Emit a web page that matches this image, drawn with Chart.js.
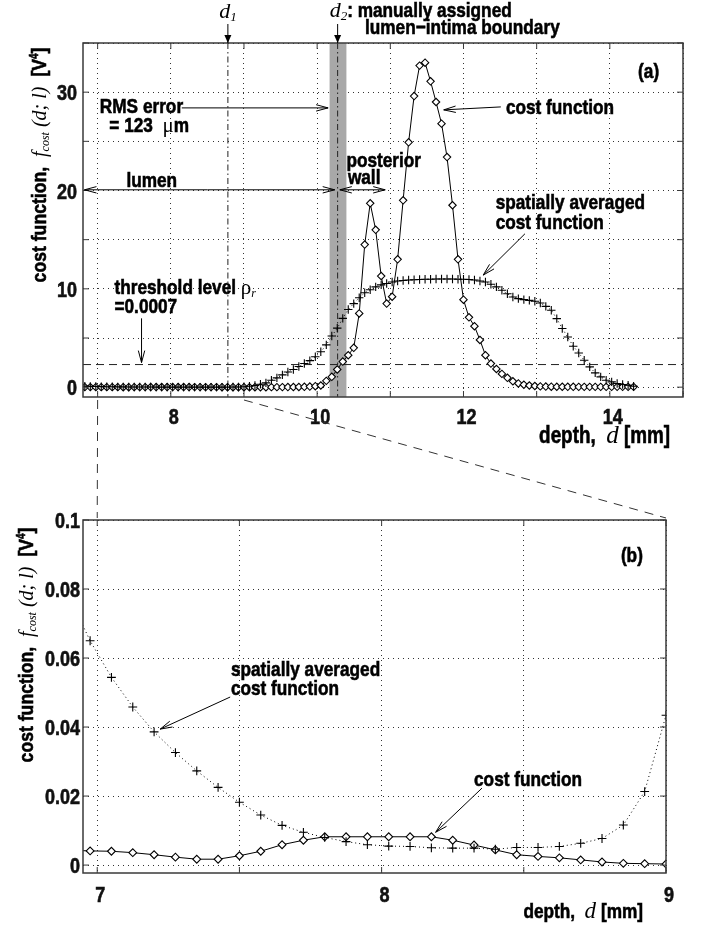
<!DOCTYPE html>
<html>
<head>
<meta charset="utf-8">
<script src="https://cdn.jsdelivr.net/npm/chart.js@4.4.0/dist/chart.umd.min.js"></script>
<style>
body { margin: 0; background: #fff; width: 705px; height: 930px; position: relative; overflow: hidden; }
canvas { position: absolute; left: 0; }
#ca { top: 0; }
#cb { top: 480px; }
#ov { top: 0; pointer-events: none; }
</style>
</head>
<body>
<canvas id="ca" width="705" height="530"></canvas>
<canvas id="cb" width="705" height="450"></canvas>
<canvas id="ov" width="705" height="930"></canvas>
<script>
// depth samples [mm]
const depth = [6.825, 6.9, 6.975, 7.05, 7.125, 7.2, 7.275, 7.35, 7.425, 7.5,
  7.575, 7.65, 7.725, 7.8, 7.875, 7.95, 8.025, 8.1, 8.175, 8.25,
  8.325, 8.4, 8.475, 8.55, 8.625, 8.7, 8.775, 8.85, 8.925, 9.0,
  9.075, 9.15, 9.225, 9.3, 9.375, 9.45, 9.525, 9.6, 9.675, 9.75,
  9.825, 9.9, 9.975, 10.05, 10.125, 10.2, 10.275, 10.35, 10.425, 10.5,
  10.575, 10.65, 10.725, 10.8, 10.875, 10.95, 11.025, 11.1, 11.175, 11.25,
  11.325, 11.4, 11.475, 11.55, 11.625, 11.7, 11.775, 11.85, 11.925, 12.0,
  12.075, 12.15, 12.225, 12.3, 12.375, 12.45, 12.525, 12.6, 12.675, 12.75,
  12.825, 12.9, 12.975, 13.05, 13.125, 13.2, 13.275, 13.35, 13.425, 13.5,
  13.575, 13.65, 13.725, 13.8, 13.875, 13.95, 14.025, 14.1, 14.175, 14.25, 14.325];

// cost function (diamonds)
const costFn = [0.0045, 0.0043, 0.0041, 0.0040, 0.0036, 0.0030, 0.0023, 0.0017, 0.0017, 0.0027,
  0.0040, 0.0059, 0.0072, 0.0082, 0.0082, 0.0082, 0.0082, 0.0082, 0.0082, 0.0072,
  0.0058, 0.0044, 0.0030, 0.0025, 0.0021, 0.0015, 0.0009, 0.0005, 0.0004, 0.0003,
  0.0003, 0.0004, 0.0006, 0.001, 0.002, 0.003, 0.005, 0.008, 0.012, 0.02,
  0.035, 0.06, 0.1, 0.17, 0.64, 1.05, 1.8, 2.6, 3.25, 4.0,
  7.5, 14.5, 18.7, 16.0, 11.3, 8.5, 9.2, 13.0, 19.0, 24.9,
  29.6, 32.7, 33.0, 31.1, 29.0, 26.8, 23.4, 18.5, 13.0, 8.9,
  7.1, 6.2, 4.8, 3.25, 2.4, 1.85, 1.35, 0.95, 0.6, 0.38,
  0.25, 0.17, 0.12, 0.08, 0.06, 0.05, 0.04, 0.04, 0.035, 0.035,
  0.03, 0.03, 0.03, 0.03, 0.03, 0.03, 0.03, 0.03, 0.03, 0.03, 0.03];

// spatially averaged cost function (pluses)
const avgFn = [0.09, 0.078, 0.065, 0.0544, 0.0458, 0.0386, 0.0326, 0.0273, 0.0225, 0.0182,
  0.0145, 0.0115, 0.0095, 0.0080, 0.0068, 0.0059, 0.0055, 0.0054, 0.0050, 0.0049,
  0.0049, 0.0046, 0.0051, 0.0051, 0.0054, 0.0063, 0.0077, 0.0116, 0.0213, 0.0434,
  0.09, 0.17, 0.3, 0.44, 0.7, 0.95, 1.25, 1.55, 1.8, 2.1,
  2.4, 2.7, 3.1, 3.6, 4.3, 5.2, 6.0, 7.0, 7.9, 8.5,
  9.1, 9.6, 9.9, 10.2, 10.4, 10.55, 10.7, 10.8, 10.85, 10.9,
  10.92, 10.95, 10.97, 10.98, 11.0, 11.0, 11.0, 11.0, 10.98, 10.97,
  10.95, 10.9, 10.8, 10.7, 10.46, 10.2, 9.85, 9.5, 9.17, 9.0,
  8.9, 8.83, 8.73, 8.56, 8.22, 7.82, 6.97, 5.96, 5.1, 4.16,
  3.48, 2.74, 2.06, 1.45, 1.05, 0.71, 0.54, 0.38, 0.27, 0.2, 0.1];

// axes / ticks
const xGridA = [7, 8, 9, 10, 11, 12, 13, 14, 15];
const xLabelsA = [8, 10, 12, 14];
const yGridA = [0, 5, 10, 15, 20, 25, 30, 35];
const yLabelsA = [0, 10, 20, 30];
const xGridB = [7, 7.5, 8, 8.5, 9];
const xLabelsB = [7, 8, 9];
const yGridB = [0, 0.02, 0.04, 0.06, 0.08, 0.1];
const yLabelsB = [0, 0.02, 0.04, 0.06, 0.08, 0.1];

// markers in panel (a)
const d1 = 8.78;
const d2 = 10.28;
const band = [10.17, 10.40];
const threshold = 2.3;

const SANS = "'Liberation Sans',Arial,sans-serif";
const SERIF = "'Liberation Serif','DejaVu Serif',serif";
const NARROW = 0.82;
// bold condensed look: Liberation Sans Bold squeezed horizontally
const B = (t, s, dy, sx) => ({ t, f: `bold ${s || 21}px ${SANS}`, sx: sx || NARROW, dy, heavy: true });
const I = (t, s, dy) => ({ t, f: `italic ${s || 22}px ${SERIF}`, sx: 1, dy });
const R = (t, s, dy) => ({ t, f: `${s || 21}px ${SERIF}`, sx: 1, dy });

function rich(ctx, x, y, parts, align) {
  let w = 0;
  parts.forEach(p => { ctx.font = p.f; w += ctx.measureText(p.t).width * p.sx; });
  let cx = align === 'center' ? x - w / 2 : align === 'right' ? x - w : x;
  parts.forEach(p => {
    ctx.font = p.f;
    ctx.save();
    ctx.translate(cx, y + (p.dy || 0));
    ctx.scale(p.sx, 1);
    ctx.fillText(p.t, 0, 0);
    if (p.heavy) {
      ctx.setLineDash([]);
      ctx.lineWidth = 0.6;
      ctx.strokeStyle = ctx.fillStyle;
      ctx.strokeText(p.t, 0, 0);
    }
    ctx.restore();
    cx += ctx.measureText(p.t).width * p.sx;
  });
}

function arrow(ctx, x1, y1, x2, y2, filled) {
  const a = Math.atan2(y2 - y1, x2 - x1), L = filled ? 8 : 12, W = filled ? 3.5 : 3.2;
  ctx.beginPath(); ctx.moveTo(x1, y1); ctx.lineTo(x2, y2); ctx.stroke();
  const bx = x2 - L * Math.cos(a), by = y2 - L * Math.sin(a);
  const px = -Math.sin(a) * W, py = Math.cos(a) * W;
  ctx.beginPath(); ctx.moveTo(bx + px, by + py); ctx.lineTo(x2, y2); ctx.lineTo(bx - px, by - py);
  if (filled) { ctx.closePath(); ctx.fill(); } else ctx.stroke();
}

function yTitle(ctx, cx, cy) {
  ctx.save();
  ctx.translate(cx, cy);
  ctx.rotate(-Math.PI / 2);
  rich(ctx, 0, 0, [
    B('cost function,  ', 21, 0, 0.84), I('f', 20), I('cost', 12, 3), I(' (d; l)  ', 20),
    B('[V', 21, 0, 0.84), B('4', 12, -8), B(']', 21, 0, 0.84)
  ], 'center');
  ctx.restore();
}

function xTitle(ctx, right, base, s) {
  rich(ctx, right, base, [B('depth,  ', s), I('d', s + 2), B(' [mm]', s)], 'right');
}

// frame, inner tick marks and tick labels
function frame(chart, xs, ys, xl, yl, xOff, yOff) {
  const { ctx, chartArea: a, scales: { x, y } } = chart;
  ctx.save();
  ctx.strokeStyle = '#3a3a3a';
  ctx.lineWidth = 1.5;
  ctx.strokeRect(a.left, a.top, a.right - a.left, a.bottom - a.top);
  ctx.lineWidth = 1;
  ctx.beginPath();
  xs.forEach(v => {
    const p = x.getPixelForValue(v);
    ctx.moveTo(p, a.bottom); ctx.lineTo(p, a.bottom - 6);
    ctx.moveTo(p, a.top); ctx.lineTo(p, a.top + 6);
  });
  ys.forEach(v => {
    const p = y.getPixelForValue(v);
    ctx.moveTo(a.left, p); ctx.lineTo(a.left + 6, p);
    ctx.moveTo(a.right, p); ctx.lineTo(a.right - 6, p);
  });
  ctx.stroke();
  ctx.fillStyle = '#111';
  xl.forEach(v => rich(ctx, x.getPixelForValue(v) + 3, a.bottom + xOff, [B(String(v), 22)], 'center'));
  yl.forEach(v => rich(ctx, a.left - yOff, y.getPixelForValue(v) + 8, [B(String(v), 22)], 'right'));
  ctx.restore();
}

const annotA = {
  id: 'annotA',
  beforeDatasetsDraw(chart) {
    const { ctx, chartArea: a, scales: { x, y } } = chart;
    ctx.save();
    ctx.fillStyle = '#a8a8a8';
    const b0 = x.getPixelForValue(band[0]), b1 = x.getPixelForValue(band[1]);
    ctx.fillRect(b0, a.top, b1 - b0, a.bottom - a.top);
    ctx.strokeStyle = '#222';
    ctx.lineWidth = 1;
    ctx.setLineDash([8, 5]);
    ctx.beginPath();
    ctx.moveTo(a.left, y.getPixelForValue(threshold));
    ctx.lineTo(a.right, y.getPixelForValue(threshold));
    ctx.stroke();
    ctx.setLineDash([6, 3, 1.5, 3]);
    [d1, d2].forEach(v => {
      ctx.beginPath();
      ctx.moveTo(x.getPixelForValue(v), a.top);
      ctx.lineTo(x.getPixelForValue(v), a.bottom);
      ctx.stroke();
    });
    ctx.restore();
  },
  afterDraw(chart) {
    const { ctx, chartArea: a, scales: { x, y } } = chart;
    frame(chart, xGridA, yGridA, xLabelsA, yLabelsA, 27, 6);
    const X = v => x.getPixelForValue(v), Y = v => y.getPixelForValue(v);
    ctx.save();
    ctx.fillStyle = '#000';
    ctx.strokeStyle = '#000';
    ctx.lineWidth = 1;

    // d1 / d2 labels above the frame
    rich(ctx, X(d1), 18, [I('d'), I('1', 13, 3)], 'center');
    arrow(ctx, X(d1), 24, X(d1), a.top, true);
    rich(ctx, X(d2) - 8, 17, [I('d'), I('2', 13, 3), B(': manually assigned')], 'left');
    rich(ctx, 365, 34, [B('lumen\u2212intima boundary')], 'left');
    ctx.lineWidth = 1;
    arrow(ctx, X(d2), 24, X(d2), a.top, true);

    rich(ctx, X(14.53), Y(31.4), [B('(a)')], 'center');

    rich(ctx, X(7.03), Y(27.9), [B('RMS error')], 'left');
    rich(ctx, X(7.16), Y(26.0), [B('= 123  '), R('\u03bc'), B('m')], 'left');
    ctx.lineWidth = 1;
    arrow(ctx, X(8.15), Y(28.4), X(10.15), Y(28.4));

    rich(ctx, X(7.74), Y(20.4), [B('lumen')], 'center');
    ctx.lineWidth = 1;
    arrow(ctx, X(8.5), Y(20.07), X(6.82), Y(20.07));
    arrow(ctx, X(8.5), Y(20.07), X(10.24), Y(20.07));

    rich(ctx, X(10.4), Y(22.4), [B('posterior')], 'left');
    rich(ctx, X(10.42), Y(20.7), [B('wall')], 'left');
    ctx.lineWidth = 1;
    arrow(ctx, X(10.6), Y(20.07), X(10.31), Y(20.07));
    arrow(ctx, X(10.6), Y(20.07), X(10.93), Y(20.07));

    rich(ctx, X(12.58), Y(27.8), [B('cost function')], 'left');
    ctx.lineWidth = 1;
    arrow(ctx, X(12.51), Y(28.5), X(11.73), Y(28.2));

    rich(ctx, X(12.44), Y(18.1), [B('spatially averaged')], 'left');
    rich(ctx, X(12.44), Y(16.1), [B('cost function')], 'left');
    ctx.lineWidth = 1;
    arrow(ctx, X(12.84), Y(15.6), X(12.27), Y(11.4));

    rich(ctx, X(7.23), Y(9.45), [B('threshold level '), R('\u03c1'), I('r', 12, 3)], 'left');
    rich(ctx, X(7.23), Y(7.5), [B('=0.0007')], 'left');
    ctx.lineWidth = 1;
    arrow(ctx, X(7.6), Y(7.0), X(7.6), Y(2.5));

    yTitle(ctx, 46, 165);
    xTitle(ctx, a.right - 13, a.bottom + 46, 23);
    ctx.restore();
  }
};

const annotB = {
  id: 'annotB',
  afterDraw(chart) {
    const { ctx, chartArea: a, scales: { x, y } } = chart;
    frame(chart, xGridB, yGridB, xLabelsB, yLabelsB, 29, 3);
    const X = v => x.getPixelForValue(v), Y = v => y.getPixelForValue(v);
    ctx.save();
    ctx.fillStyle = '#000';
    ctx.strokeStyle = '#000';
    rich(ctx, X(8.88), Y(0.0878), [B('(b)')], 'center');
    rich(ctx, X(7.47), Y(0.0548), [B('spatially averaged')], 'left');
    rich(ctx, X(7.47), Y(0.0493), [B('cost function')], 'left');
    ctx.lineWidth = 1;
    arrow(ctx, X(7.4675), Y(0.0487), X(7.2215), Y(0.0394));
    rich(ctx, X(8.325), Y(0.0229), [B('cost function')], 'left');
    ctx.lineWidth = 1;
    arrow(ctx, X(8.353), Y(0.0223), X(8.19), Y(0.0095));
    yTitle(ctx, 33, 645 - 480);
    xTitle(ctx, a.right - 23, a.bottom + 45, 21);
    ctx.restore();
  }
};

function series(vals) {
  return depth.map((d, i) => ({ x: d, y: vals[i] }));
}

function makeChart(id, cfg) {
  return new Chart(document.getElementById(id), {
    type: 'line',
    data: {
      datasets: [{
        data: series(avgFn),
        borderColor: '#000',
        borderWidth: 1,
        borderDash: [1, 3],
        pointStyle: 'cross',
        pointRadius: cfg.r + 0.5,
        pointBorderColor: '#000',
        pointBorderWidth: 1.1,
        tension: 0
      }, {
        data: series(costFn),
        borderColor: '#000',
        borderWidth: 1,
        pointStyle: 'rectRot',
        pointRadius: cfg.r,
        pointBackgroundColor: '#fff',
        pointBorderColor: '#000',
        pointBorderWidth: 1.1,
        tension: 0
      }]
    },
    options: {
      responsive: false,
      animation: false,
      layout: { padding: cfg.pad },
      plugins: { legend: { display: false }, tooltip: { enabled: false } },
      scales: {
        x: {
          type: 'linear', min: cfg.xr[0], max: cfg.xr[1],
          afterBuildTicks: s => { s.ticks = cfg.xg.map(v => ({ value: v })); },
          afterFit: s => { s.height = cfg.xh; },
          grid: { color: '#333', lineWidth: 1, drawTicks: false },
          border: { display: false, dash: [1, 4] },
          ticks: { display: false }
        },
        y: {
          min: cfg.yr[0], max: cfg.yr[1],
          afterBuildTicks: s => { s.ticks = cfg.yg.map(v => ({ value: v })); },
          afterFit: s => { s.width = 83; },
          grid: { color: '#333', lineWidth: 1, drawTicks: false },
          border: { display: false, dash: [1, 4] },
          ticks: { display: false }
        }
      }
    },
    plugins: [cfg.plugin]
  });
}

const chartA = makeChart('ca', {
  r: 3.7, pad: { left: 0, right: 22, top: 43, bottom: 0 }, xh: 133,
  xr: [6.8, 15], yr: [-1, 35], xg: xGridA, yg: yGridA, plugin: annotA
});
const chartB = makeChart('cb', {
  r: 3.9, pad: { left: 0, right: 39, top: 40, bottom: 0 }, xh: 57,
  xr: [6.95, 9], yr: [-0.0023, 0.1], xg: xGridB, yg: yGridB, plugin: annotB
});

// zoom connector lines between panel (a) and panel (b)
const ov = document.getElementById('ov').getContext('2d');
ov.strokeStyle = '#333';
ov.lineWidth = 1;
ov.setLineDash([9, 7]);
const zoomRange = [xLabelsB[0], xLabelsB[xLabelsB.length - 1]];
zoomRange.forEach(v => {
  ov.beginPath();
  ov.moveTo(chartA.scales.x.getPixelForValue(v), chartA.chartArea.bottom + 3);
  ov.lineTo(chartB.scales.x.getPixelForValue(v), 480 + chartB.chartArea.top - 2);
  ov.stroke();
});
</script>
</body>
</html>
